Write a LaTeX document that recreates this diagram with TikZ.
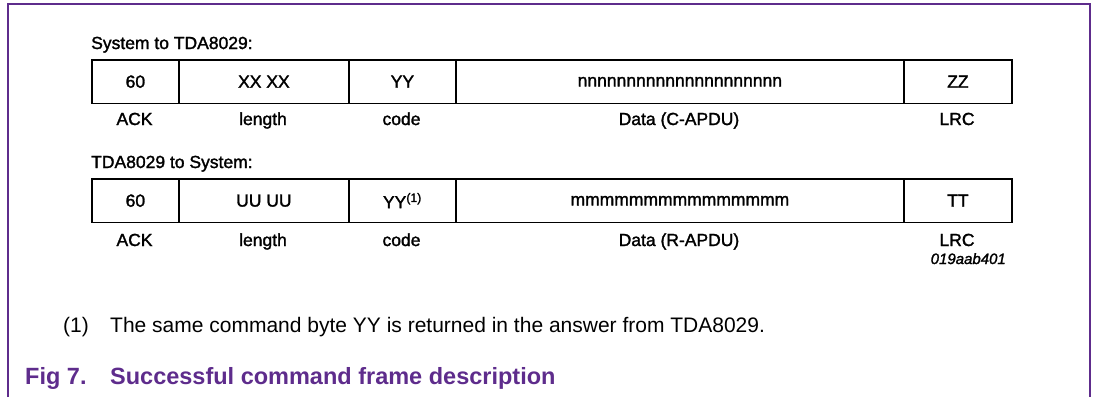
\documentclass[tikz,border=0pt]{standalone}
\usepackage{fontspec}
\setmainfont{Liberation Sans}
% slightly heavier face for the frame diagram labels
\newfontfamily\diagfont{Liberation Sans}[FakeBold=1.6]
\definecolor{nxppurple}{RGB}{94,44,140}
\begin{document}
\begin{tikzpicture}[x=1pt,y=-1pt,
  frameline/.style={draw=nxppurple,line width=1.4pt},
  cell/.style={draw,line width=1.8pt,anchor=north west,minimum height=43.5pt,
    inner sep=0pt,font=\diagfont\fontsize{17.5}{20}\selectfont},
  lbl/.style={anchor=base,inner sep=0pt,font=\diagfont\fontsize{17.5}{20}\selectfont},
  title/.style={anchor=base west,inner sep=0pt,font=\diagfont\fontsize{17.5}{20}\selectfont},
  note/.style={anchor=base west,inner sep=0pt,font=\fontsize{21}{24}\selectfont},
  caption/.style={anchor=base west,inner sep=0pt,text=nxppurple,
    font=\fontsize{23.5}{27}\selectfont\bfseries}]
\useasboundingbox (0,0) rectangle (1095,397);
% outer frame, open at the bottom
\draw[frameline] (8,397) -- (8,4) -- (1090,4) -- (1090,397);

% frame from the system to the TDA8029
\node[title] (t1) at (91,49) {System to TDA8029:};
\node[cell,minimum width=87pt]  (a1) at (91,59)  {60};
\node[cell,minimum width=170pt] (b1) at (178,59) {XX XX};
\node[cell,minimum width=107pt] (c1) at (348,59) {YY};
\node[cell,minimum width=448pt] (d1) at (455,59) {nnnnnnnnnnnnnnnnnnnnn};
\node[cell,minimum width=108pt] (e1) at (903,59) {ZZ};
\node[lbl] (la1) at (134.5,125) {ACK};
\node[lbl] (lb1) at (263,125)   {length};
\node[lbl] (lc1) at (401.5,125) {code};
\node[lbl] (ld1) at (679,125)   {Data (C-APDU)};
\node[lbl] (le1) at (957,125)   {LRC};

% frame from the TDA8029 back to the system
\node[title] (t2) at (91,168) {TDA8029 to System:};
\node[cell,minimum width=87pt]  (a2) at (91,178)  {60};
\node[cell,minimum width=170pt] (b2) at (178,178) {UU UU};
\node[cell,minimum width=107pt] (c2) at (348,178) {YY\textsuperscript{(1)}};
\node[cell,minimum width=448pt] (d2) at (455,178) {mmmmmmmmmmmmmmm};
\node[cell,minimum width=108pt] (e2) at (903,178) {TT};
\node[lbl] (la2) at (134.5,246) {ACK};
\node[lbl] (lb2) at (263,246)   {length};
\node[lbl] (lc2) at (401.5,246) {code};
\node[lbl] (ld2) at (679,246)   {Data (R-APDU)};
\node[lbl] (le2) at (957,246)   {LRC};
\node[anchor=base east,inner sep=0pt,font=\diagfont\fontsize{15}{18}\selectfont\itshape]
  (id) at (1006,264) {019aab401};

% footnote and caption
\node[note] (fn) at (63,332) {(1)};
\node[note] (fnt) at (110,332) {The same command byte YY is returned in the answer from TDA8029.};
\node[caption] (fig) at (25,384) {Fig 7.};
\node[caption] (figt) at (110,384) {Successful command frame description};
\end{tikzpicture}
\end{document}
